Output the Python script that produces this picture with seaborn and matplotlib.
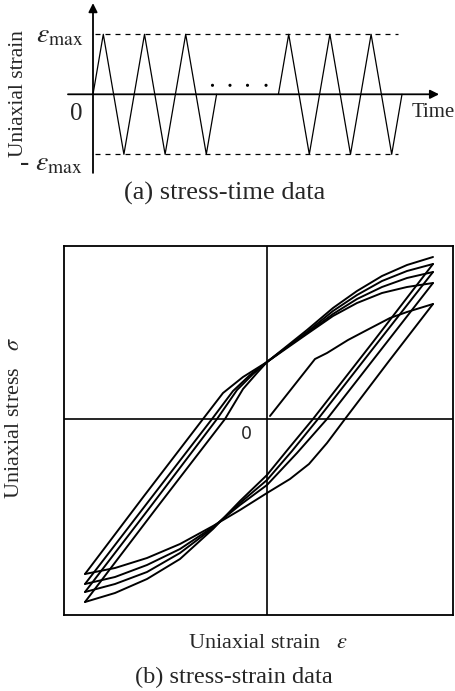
import matplotlib
matplotlib.use("Agg")
import matplotlib.pyplot as plt
import numpy as np
import pandas as pd
import seaborn as sns

# ---------------- data: (a) strain-time history ----------------
t_group1 = [0, 1, 3, 5, 7, 9, 11, 12]
t_group2 = [18, 19, 21, 23, 25, 27, 29, 30]
strain_wave = [0, 1, -1, 1, -1, 1, -1, 0]
eps_max = 1.0
dash_extent = [0.2, 29.6]
dots_t = [11.6, 13.3, 15.0, 16.8]
dots_strain = [0.15, 0.15, 0.15, 0.15]

# ---------------- data: (b) stress-strain hysteresis ----------------
load_x = [3, 48, 60, 81, 100, 123, 140, 166]
load_y = [3, 60, 66, 79, 89, 101, 107, 115]

desc1_x = [166, 122, 78, 60, 42, 23, 0, -27, -54, -87, -120, -152, -182]
desc1_y = [115, 58, 0, -24, -45, -60, -74, -91, -107, -125, -139, -149, -155]
desc2_x = [166, 113, 60, 30, 0, -27, -54, -87, -120, -152, -182]
desc2_y = [136, 68, 0, -34, -66, -86, -108, -130, -146, -158, -165]
desc3_x = [166, 108, 51, 25, 0, -27, -54, -87, -120, -152, -182]
desc3_y = [147, 73, 0, -32, -61, -84, -109, -134, -153, -165, -173]
desc4_x = [166, 106, 46, 22, 0, -27, -54, -87, -120, -152, -182]
desc4_y = [155, 77, 0, -29, -56, -82, -110, -140, -160, -174, -183]

asc1_x = [-182, -123, -64, -44, -24, 0, 20, 40, 66, 90, 115, 140, 166]
asc1_y = [-155, -77, 0, 26, 42, 57, 71, 85, 103, 116, 126, 132, 136]
asc2_x = [-182, -119, -55, -34, -17, 0, 20, 40, 66, 90, 115, 140, 166]
asc2_y = [-165, -83, 0, 28, 44, 57, 72, 86, 105, 120, 132, 141, 147]
asc3_x = [-182, -116, -50, -30, -14, 0, 20, 40, 66, 90, 115, 140, 166]
asc3_y = [-173, -87, 0, 29, 45, 57, 72, 87, 108, 124, 138, 148, 155]
asc4_x = [-182, -112, -42, -24, -10, 0, 20, 40, 66, 90, 115, 140, 166]
asc4_y = [-183, -91, 0, 30, 46, 57, 73, 89, 111, 128, 143, 154, 162]

branches = [
    ("load", load_x, load_y),
    ("d1", desc1_x, desc1_y), ("a1", asc1_x, asc1_y),
    ("d2", desc2_x, desc2_y), ("a2", asc2_x, asc2_y),
    ("d3", desc3_x, desc3_y), ("a3", asc3_x, asc3_y),
    ("d4", desc4_x, desc4_y), ("a4", asc4_x, asc4_y),
]

# ---------------- style ----------------
sns.set_style("white")
plt.rcParams["font.family"] = ["Liberation Serif", "DejaVu Serif"]
plt.rcParams["mathtext.fontset"] = "stix"

fig = plt.figure(figsize=(4.56, 6.91), dpi=100)

# ======== top panel ========
ax1 = fig.add_axes([0, 1 - 180 / 691, 1, 180 / 691])
ax1.axis("off")

wave_df = pd.DataFrame({
    "t": t_group1 + t_group2,
    "strain": strain_wave + strain_wave,
    "group": [1] * len(t_group1) + [2] * len(t_group2),
})
sns.lineplot(data=wave_df, x="t", y="strain", units="group", estimator=None,
             sort=False, color="black", lw=0.9, ax=ax1, legend=False)

for lev in (eps_max, -eps_max):
    ax1.plot(dash_extent, [lev, lev], color="black", lw=0.9,
             linestyle=(0, (4, 4)))

sns.scatterplot(x=dots_t, y=dots_strain, color="black", s=5, ax=ax1,
                edgecolor="none", legend=False)

# axes arrows
ax1.annotate("", xy=(0, 1.52), xytext=(0, -1.31),
             arrowprops=dict(arrowstyle="-|>", lw=1.3, color="black",
                             mutation_scale=13, shrinkA=0, shrinkB=0))
ax1.annotate("", xy=(33.6, 0), xytext=(-2.43, 0),
             arrowprops=dict(arrowstyle="-|>", lw=1.3, color="black",
                             mutation_scale=13, shrinkA=0, shrinkB=0))

ax1.set_xlim(-93 / 10.3, (456 - 93) / 10.3)
ax1.set_ylim((94.3 - 180) / 60, 94.3 / 60)

ax1.text(-7.25, 0.02, "Uniaxial strain", rotation=90, ha="center",
         va="center", fontsize=15.5)
ax1.text(-0.97, 0.97, r"$\varepsilon_{\rm max}$", ha="right", va="center",
         fontsize=20)
ax1.text(-1.65, -0.33, "0", ha="center", va="center", fontsize=18)
ax1.text(-0.97, -1.16, r"- $\varepsilon_{\rm max}$", ha="right",
         va="center", fontsize=20)
ax1.text(30.9, -0.31, "Time", ha="left", va="center", fontsize=15)

fig.text(225 / 456, 1 - 193 / 691, "(a) stress-time data", ha="center",
         va="center", fontsize=19)

# ======== bottom panel ========
ax2 = fig.add_axes([64 / 456, 76 / 691, 389 / 456, 369 / 691])
rows = []
for name, xs, ys in branches:
    for i, (x, y) in enumerate(zip(xs, ys)):
        rows.append({"branch": name, "order": i, "strain": x, "stress": y})
loop_df = pd.DataFrame(rows)
sns.lineplot(data=loop_df, x="strain", y="stress", units="branch",
             estimator=None, sort=False, color="black", lw=1.4, ax=ax2,
             legend=False)

ax2.axhline(0, color="black", lw=1.2)
ax2.axvline(0, color="black", lw=1.2)
ax2.set_xlim(-203, 186)
ax2.set_ylim(-196, 173)
ax2.set_xticks([])
ax2.set_yticks([])
ax2.set_xlabel("")
ax2.set_ylabel("")
for sp in ax2.spines.values():
    sp.set_visible(True)
    sp.set_color("black")
    sp.set_linewidth(1.3)

ax2.text(-21, -15, "0", ha="center", va="center", fontsize=12.5,
         family=["DejaVu Sans"])

fig.text(268 / 456, 1 - 643 / 691, r"Uniaxial strain   $\varepsilon$",
         ha="center", va="center", fontsize=16)
fig.text(15 / 456, 1 - 418 / 691, r"Uniaxial stress   $\sigma$",
         rotation=90, ha="center", va="center", fontsize=16)
fig.text(234 / 456, 1 - 677 / 691, "(b) stress-strain data", ha="center",
         va="center", fontsize=17.5)

fig.savefig("out.png", dpi=100)
